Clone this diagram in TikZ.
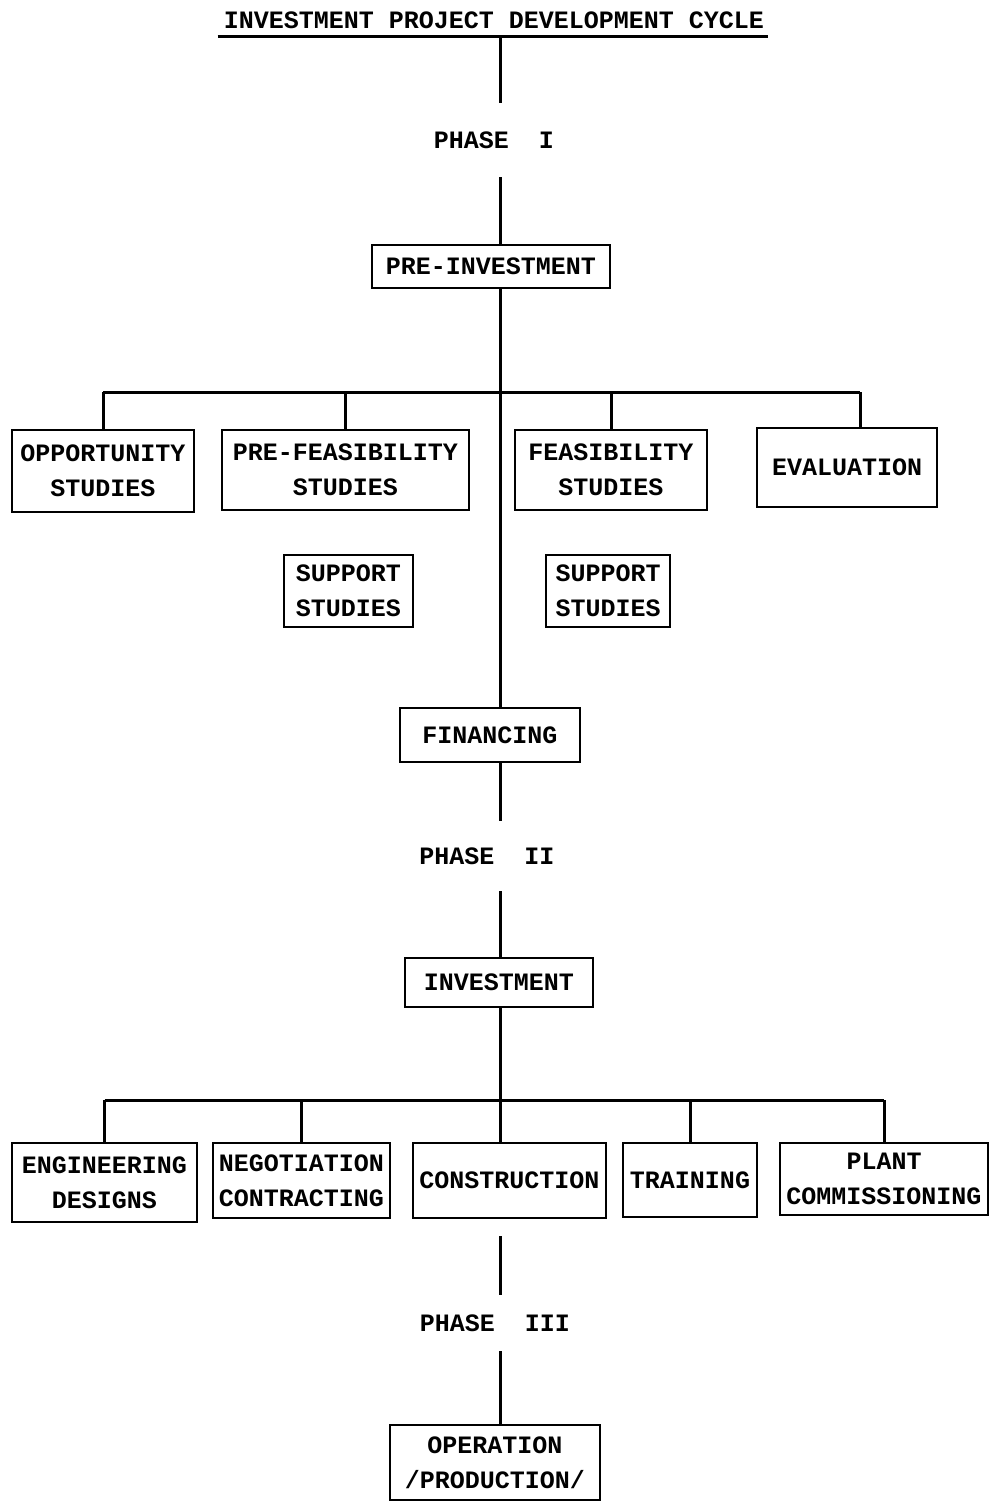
\documentclass[tikz,border=0pt]{standalone}
\usepackage{fontspec}
\setmonofont{Liberation Mono}
\usetikzlibrary{calc}

\begin{document}
\begin{tikzpicture}[x=0.5pt,y=-0.5pt,
	txt/.style={font=\ttfamily\bfseries\fontsize{12.5}{17.5}\selectfont},
	box/.style={txt,draw,line width=1.3pt,align=center,inner sep=1pt},
	lbl/.style={txt,inner sep=0pt},
	link/.style={line width=1.5pt}]
	\useasboundingbox (0,0) rectangle (990,1503);
	\coordinate (axis) at (500,0);		%main vertical line
	\coordinate (evtap) at (860,0);		%evaluation drop
	\coordinate (bus1) at (0,392);		%upper branch line
	\coordinate (bus2) at (0,1100);		%lower branch line
	
	%title and phases
	\node[lbl,inner ysep=4pt] (title) at (494,20) {INVESTMENT PROJECT DEVELOPMENT CYCLE};
	\node[lbl,minimum height=37pt] (ph1) at (494,140) {PHASE~~I};
	\node[lbl,minimum height=35pt] (ph2) at (487,856) {PHASE~~II};
	\node[lbl,minimum height=28pt] (ph3) at (495,1323) {PHASE~~III};
	
	%phase I boxes
	\node[box,minimum width=119pt,minimum height=21.5pt] (preinv) at (491,266.5) {PRE-INVESTMENT};
	\node[box,minimum width=91pt,minimum height=41pt] (opp) at (103,471) {OPPORTUNITY\\STUDIES};
	\node[box,minimum width=123.5pt,minimum height=40pt] (prefeas) at (345.5,470) {PRE-FEASIBILITY\\STUDIES};
	\node[box,minimum width=96pt,minimum height=40pt] (feas) at (611,470) {FEASIBILITY\\STUDIES};
	\node[box,minimum width=90pt,minimum height=39.5pt] (eval) at (847,467.5) {EVALUATION};
	\node[box,minimum width=64.5pt,minimum height=36pt] (supl) at (348.5,591) {SUPPORT\\STUDIES};
	\node[box,minimum width=62pt,minimum height=36pt] (supr) at (608,591) {SUPPORT\\STUDIES};
	\node[box,minimum width=90pt,minimum height=27pt] (fin) at (490,735) {FINANCING};
	
	%phase II boxes
	\node[box,minimum width=94pt,minimum height=24.5pt] (inv) at (499,982.5) {INVESTMENT};
	\node[box,minimum width=92.5pt,minimum height=39.5pt] (eng) at (104.5,1182.5) {ENGINEERING\\DESIGNS};
	\node[box,minimum width=88.5pt,minimum height=37.5pt] (neg) at (301.5,1180.5) {NEGOTIATION\\CONTRACTING};
	\node[box,minimum width=96.5pt,minimum height=37.5pt] (con) at (509.5,1180.5) {CONSTRUCTION};
	\node[box,minimum width=67pt,minimum height=37pt] (tra) at (690,1180) {TRAINING};
	\node[box,minimum width=104pt,minimum height=36pt] (plant) at (884,1179) {PLANT\\COMMISSIONING};
	
	%phase III box
	\node[box,minimum width=105pt,minimum height=37.5pt] (oper) at (495,1462.5) {OPERATION\\/PRODUCTION/};
	
	%title rule
	\draw[link,shorten <=-3pt,shorten >=-2pt] (title.south west) -- (title.south east);
	
	%main line
	\draw[link] (title.south -| axis) -- (ph1.north -| axis);
	\draw[link] (ph1.south -| axis) -- (preinv.north -| axis);
	\draw[link] (preinv.south -| axis) -- (fin.north -| axis);
	\draw[link] (fin.south -| axis) -- (ph2.north -| axis);
	\draw[link] (ph2.south -| axis) -- (inv.north -| axis);
	\draw[link] (inv.south -| axis) -- (con.north -| axis);
	\draw[link] (con.south -| axis) ++(0,17) -- (ph3.north -| axis);
	\draw[link] (ph3.south -| axis) -- (oper.north -| axis);
	
	%upper branches
	\draw[link] (opp.north |- bus1) -- (evtap |- bus1);
	\foreach \n in {opp,prefeas,feas}
		\draw[link] (\n.north |- bus1) -- (\n.north);
	\draw[link] (evtap |- bus1) -- (evtap |- eval.north);
	
	%lower branches
	\draw[link] (eng.north |- bus2) -- (plant.north |- bus2);
	\foreach \n in {eng,neg,tra,plant}
		\draw[link] (\n.north |- bus2) -- (\n.north);
\end{tikzpicture}
\end{document}
